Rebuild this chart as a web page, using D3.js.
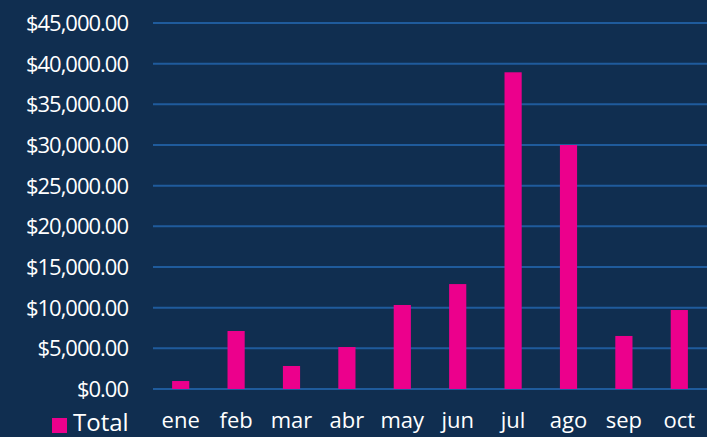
<!DOCTYPE html>
<html>
<head>
<meta charset="utf-8">
<script src="https://cdn.jsdelivr.net/npm/d3@7"></script>
<style>
  html, body { margin: 0; padding: 0; background: #102e50; }
  svg { display: block; }
  text { font-family: "Open Sans", sans-serif; fill: #ffffff; }
</style>
</head>
<body>
<div id="chart"></div>
<script>
const months = ["ene", "feb", "mar", "abr", "may", "jun", "jul", "ago", "sep", "oct"];
const totals = [980, 7130, 2830, 5160, 10330, 12900, 38940, 30000, 6520, 9710];
const yTicks = [0, 5000, 10000, 15000, 20000, 25000, 30000, 35000, 40000, 45000];
const seriesName = "Total";

const W = 707, H = 437;
const margin = {top: 23, right: 0, bottom: 48, left: 153};
const width = W - margin.left - margin.right,
      height = H - margin.top - margin.bottom;

const svg = d3.select("#chart")
              .append("svg")
              .attr("width", W)
              .attr("height", H);
svg.append("rect").attr("width", W).attr("height", H).attr("fill", "#102e50");

const g = svg.append("g")
             .attr("transform", `translate(${margin.left},${margin.top})`);

const x = d3.scaleBand().domain(months).range([0, width]).paddingInner(0.69).paddingOuter(0.345);
const y = d3.scaleLinear().domain([0, 45000]).range([height, 0]);

const fmt = v => "$" + d3.format(",.2f")(v);

// gridlines
g.selectAll(".grid")
 .data(yTicks)
 .enter().append("line")
 .attr("x1", 0).attr("x2", width)
 .attr("y1", d => y(d)).attr("y2", d => y(d))
 .attr("stroke", "#1f5b9c")
 .attr("stroke-width", 2);

// y labels
g.selectAll(".ylab")
 .data(yTicks)
 .enter().append("text")
 .attr("x", -25)
 .attr("y", d => y(d))
 .attr("dy", "0.36em")
 .attr("text-anchor", "end")
 .style("font-size", "22px")
 .style("letter-spacing", "-1px")
 .text(fmt);

// bars
g.selectAll(".bar")
 .data(months)
 .enter().append("rect")
 .attr("x", d => x(d))
 .attr("width", x.bandwidth())
 .attr("y", (d, i) => y(totals[i]))
 .attr("height", (d, i) => y(0) - y(totals[i]))
 .attr("fill", "#ec008c");

// x labels
g.selectAll(".xlab")
 .data(months)
 .enter().append("text")
 .attr("x", d => x(d) + x.bandwidth() / 2)
 .attr("y", height + 39)
 .attr("text-anchor", "middle")
 .style("font-size", "22px")
 .text(d => d);

// legend
svg.append("rect")
   .attr("x", 52).attr("y", 418).attr("width", 15).attr("height", 15)
   .attr("fill", "#ec008c");
svg.append("text")
   .attr("x", 73).attr("y", 431)
   .style("font-size", "24px")
   .text(seriesName);
</script>
</body>
</html>
